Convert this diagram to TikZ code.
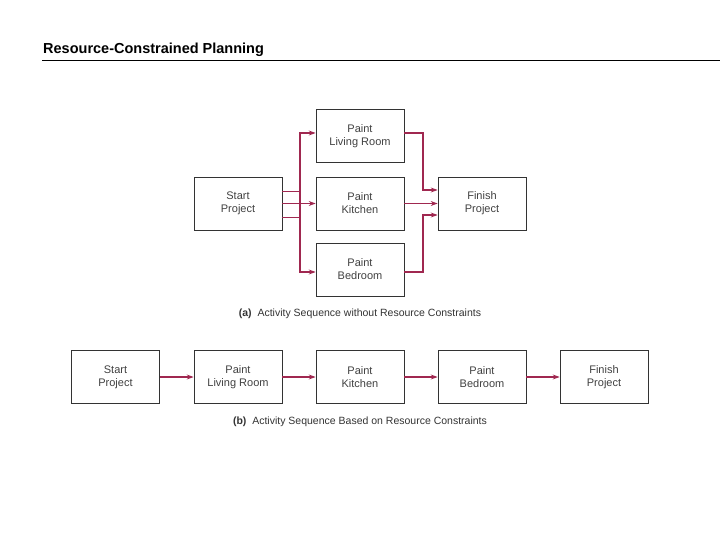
\documentclass[tikz,border=0pt]{standalone}
\usepackage{fontspec}
\setmainfont{Liberation Sans}
\usetikzlibrary{arrows.meta}
\definecolor{arr}{HTML}{A02850}
\begin{document}
\begin{tikzpicture}[x=1pt,y=-1pt,
  box/.style={draw=black!80,line width=0.7pt,minimum width=88pt,minimum height=53pt,inner sep=0pt,align=center,font=\fontsize{11}{13}\selectfont\color{black!75}},
  con/.style={draw=arr,line width=1.1pt,-{Stealth[length=7pt,width=5pt]}},
  captext/.style={font=\fontsize{10.5}{12}\selectfont\color{black!80}}]
\useasboundingbox (0,0) rectangle (720,540);
\node[anchor=base west,inner sep=0pt,font=\bfseries\fontsize{14.5}{16}\selectfont] (title) at (43,54) {Resource-Constrained Planning};
\draw[line width=0.8pt] (42,60) -- (720,60);
% (a)
\node[box] (s) at (238,203.5) {Start\\Project};
\node[box] (l) at (360,136) {Paint\\Living Room};
\node[box] (k) at (360,203.5) {Paint\\Kitchen};
\node[box] (b) at (360,269.5) {Paint\\Bedroom};
\node[box] (f) at (482,203.5) {Finish\\Project};
\draw[con] ([yshift=-14pt]s.east) -| (300,133) -- (l.west |- 0,133);
\draw[con] (s.east) -- (k.west);
\draw[con] ([yshift=12pt]s.east) -| (300,272) -- (b.west |- 0,272);
\draw[con] (l.east |- 0,133) -| (423,190) -- (f.west |- 0,190);
\draw[con] (k.east) -- (f.west);
\draw[con] (b.east |- 0,272) -| (423,215) -- (f.west |- 0,215);
\node[captext] (ca) at (360,314) {\textbf{(a)}\ \ Activity Sequence without Resource Constraints};
% (b)
\node[box] (s2) at (115.5,377) {Start\\Project};
\node[box] (l2) at (238,377) {Paint\\Living Room};
\node[box] (k2) at (360,377) {Paint\\Kitchen};
\node[box] (b2) at (482,377) {Paint\\Bedroom};
\node[box] (f2) at (604,377) {Finish\\Project};
\draw[con] (s2) -- (l2);
\draw[con] (l2) -- (k2);
\draw[con] (k2) -- (b2);
\draw[con] (b2) -- (f2);
\node[captext] (cb) at (360,422) {\textbf{(b)}\ \ Activity Sequence Based on Resource Constraints};
\end{tikzpicture}
\end{document}
